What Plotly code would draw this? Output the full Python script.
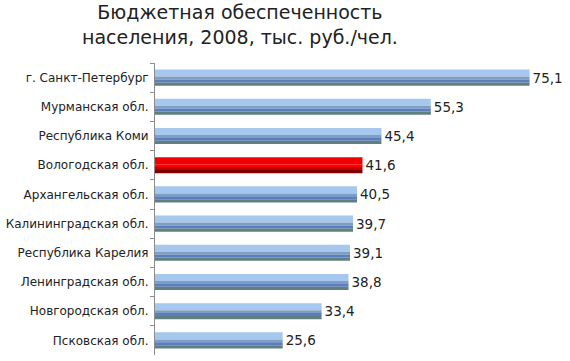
import plotly.graph_objects as go

regions = ["г. Санкт-Петербург", "Мурманская обл.", "Республика Коми", "Вологодская обл.",
           "Архангельская обл.", "Калининградская обл.", "Республика Карелия",
           "Ленинградская обл.", "Новгородская обл.", "Псковская обл."]
values = [75.1, 55.3, 45.4, 41.6, 40.5, 39.7, 39.1, 38.8, 33.4, 25.6]
labels = ["75,1", "55,3", "45,4", "41,6", "40,5", "39,7", "39,1", "38,8", "33,4", "25,6"]
highlight = "Вологодская обл."
title_text = "Бюджетная обеспеченность<br>населения, 2008, тыс. руб./чел."

blue_stripes = ["#a6c8ee", "#7f9fc2", "#5a7ec0", "#5f7f80"]
red_stripes = ["#f00000", "#ff0000", "#c00000", "#800000"]
stripe_w = [0.24, 0.10, 0.10, 0.11]

fig = go.Figure()
off = -0.275
for i in range(4):
    cols = [red_stripes[i] if r == highlight else blue_stripes[i] for r in regions]
    fig.add_trace(go.Bar(
        x=values, y=regions, orientation="h",
        width=stripe_w[i], offset=off,
        marker=dict(color=cols, line=dict(width=0)),
        hoverinfo="skip", showlegend=False,
    ))
    off += stripe_w[i]

fig.add_trace(go.Bar(
    x=values, y=regions, orientation="h", width=0.55, offset=-0.275,
    marker=dict(color="rgba(0,0,0,0)", line=dict(width=0)),
    text=labels, textposition="outside",
    textfont=dict(family="DejaVu Sans", size=13.5, color="#222222"),
    cliponaxis=False, showlegend=False,
))

fig.add_annotation(
    text=title_text, xref="paper", yref="paper", x=0.212, y=1.218,
    xanchor="center", yanchor="top", showarrow=False, align="center",
    font=dict(family="DejaVu Sans", size=19, color="#222222"),
)

fig.update_layout(
    width=570, height=361,
    barmode="overlay",
    paper_bgcolor="white", plot_bgcolor="white",
    margin=dict(l=153, r=16, t=63, b=6),
    xaxis=dict(range=[0, 80], visible=False),
    yaxis=dict(autorange="reversed", showline=True, linecolor="#8c8c8c", linewidth=1,
               ticks="outside", ticklen=4, tickcolor="#8c8c8c", tickson="boundaries",
               ticklabelstandoff=3,
               tickfont=dict(family="DejaVu Sans", size=12, color="#222222"),
               showgrid=False),
    font=dict(family="DejaVu Sans"),
)

fig.write_html("out.html")
